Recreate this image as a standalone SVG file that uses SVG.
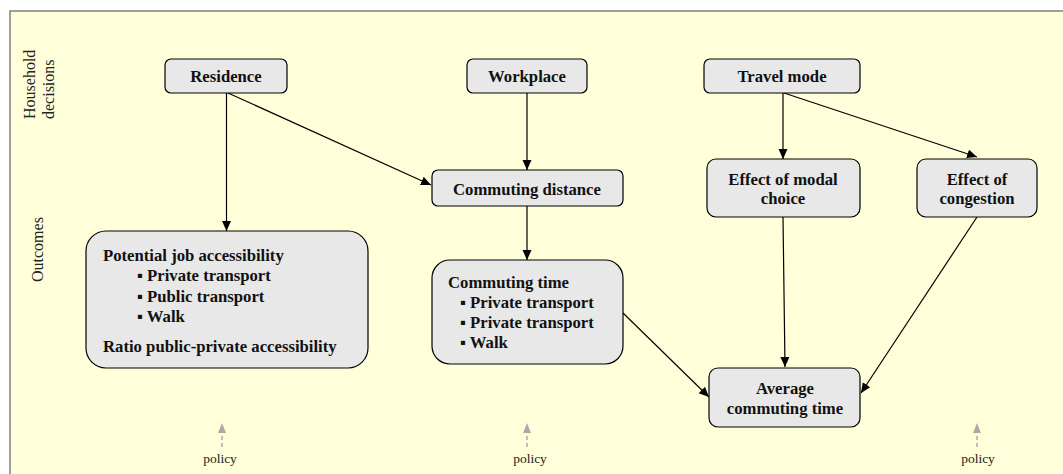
<svg xmlns="http://www.w3.org/2000/svg" width="1063" height="474" viewBox="0 0 1063 474">
<defs>
<style>
.node{fill:#e8e8e8;stroke:#000;stroke-width:1.2}
.t{font-family:"Liberation Serif",serif;font-weight:bold;font-size:16.7px;fill:#111}
.c{text-anchor:middle}
.side{font-family:"Liberation Serif",serif;font-size:16px;fill:#222}
.pol{font-family:"Liberation Serif",serif;font-size:13.5px;fill:#222;text-anchor:middle}
.edge{stroke:#000;stroke-width:1.2;fill:none;marker-end:url(#ah)}
.pedge{stroke:#aaa;stroke-width:1.5;fill:none;stroke-dasharray:4,3}
</style>
<marker id="ah" viewBox="0 0 10 10" refX="10" refY="5" markerWidth="10" markerHeight="10" markerUnits="userSpaceOnUse" orient="auto">
<path d="M0,0.5 L10,5 L0,9.5 Z" fill="#000"/>
</marker>
</defs>
<rect x="0" y="0" width="1063" height="474" fill="#fff"/>
<rect x="10" y="11" width="1060" height="470" fill="#ffffda" stroke="#808080" stroke-width="1.5"/>

<g id="labels">
<text class="side" transform="translate(35,119) rotate(-90)">Household</text>
<text class="side" transform="translate(54,119) rotate(-90)">decisions</text>
<text class="side" transform="translate(43,282) rotate(-90)">Outcomes</text>
</g>

<g id="connectors">
<line class="edge" x1="226.5" y1="93" x2="226.5" y2="231"/>
<line class="edge" x1="228" y1="93" x2="431" y2="185"/>
<line class="edge" x1="527" y1="93" x2="527" y2="170"/>
<line class="edge" x1="527" y1="206" x2="527" y2="260"/>
<line class="edge" x1="623" y1="313" x2="709" y2="397"/>
<line class="edge" x1="783" y1="93" x2="783" y2="159"/>
<line class="edge" x1="784" y1="93" x2="977" y2="157"/>
<line class="edge" x1="783" y1="217" x2="785" y2="367"/>
<line class="edge" x1="977" y1="217" x2="861" y2="393"/>
</g>

<g id="policy">
<line class="pedge" x1="222" y1="447" x2="222" y2="432"/>
<path d="M222,423 L226,433 L218,433 Z" fill="#aaa"/>
<text class="pol" x="220" y="463">policy</text>
<line class="pedge" x1="527" y1="447" x2="527" y2="432"/>
<path d="M527,423 L531,433 L523,433 Z" fill="#aaa"/>
<text class="pol" x="530" y="463">policy</text>
<line class="pedge" x1="977" y1="447" x2="977" y2="432"/>
<path d="M977,423 L981,433 L973,433 Z" fill="#aaa"/>
<text class="pol" x="978" y="463">policy</text>
</g>

<g id="residence">
<rect class="node" x="165" y="59" width="122" height="34" rx="6"/>
<text class="t c" x="226" y="82">Residence</text>
</g>
<g id="workplace">
<rect class="node" x="467" y="59" width="120" height="34" rx="6"/>
<text class="t c" x="527" y="82">Workplace</text>
</g>
<g id="travel-mode">
<rect class="node" x="704" y="59" width="156" height="34" rx="6"/>
<text class="t c" x="782" y="82">Travel mode</text>
</g>
<g id="commuting-distance">
<rect class="node" x="432" y="170" width="191" height="36" rx="6"/>
<text class="t c" x="527" y="195">Commuting distance</text>
</g>
<g id="effect-modal">
<rect class="node" x="707" y="159" width="153" height="58" rx="9"/>
<text class="t c" x="783" y="185">Effect of modal</text>
<text class="t c" x="783" y="204">choice</text>
</g>
<g id="effect-congestion">
<rect class="node" x="917" y="159" width="120" height="58" rx="9"/>
<text class="t c" x="977" y="185">Effect of</text>
<text class="t c" x="977" y="204">congestion</text>
</g>
<g id="job-accessibility">
<rect class="node" x="86" y="231" width="282" height="137" rx="20"/>
<text class="t" x="103" y="261">Potential job accessibility</text>
<text class="t" x="137" y="281">▪ Private transport</text>
<text class="t" x="137" y="302">▪ Public transport</text>
<text class="t" x="137" y="322">▪ Walk</text>
<text class="t" x="103" y="352">Ratio public-private accessibility</text>
</g>
<g id="commuting-time">
<rect class="node" x="432" y="260" width="191" height="104" rx="18"/>
<text class="t" x="448" y="288">Commuting time</text>
<text class="t" x="460" y="308">▪ Private transport</text>
<text class="t" x="460" y="328">▪ Private transport</text>
<text class="t" x="460" y="348">▪ Walk</text>
</g>
<g id="average-commuting-time">
<rect class="node" x="709" y="368" width="151" height="59" rx="9"/>
<text class="t c" x="785" y="394">Average</text>
<text class="t c" x="785" y="414">commuting time</text>
</g>
</svg>
